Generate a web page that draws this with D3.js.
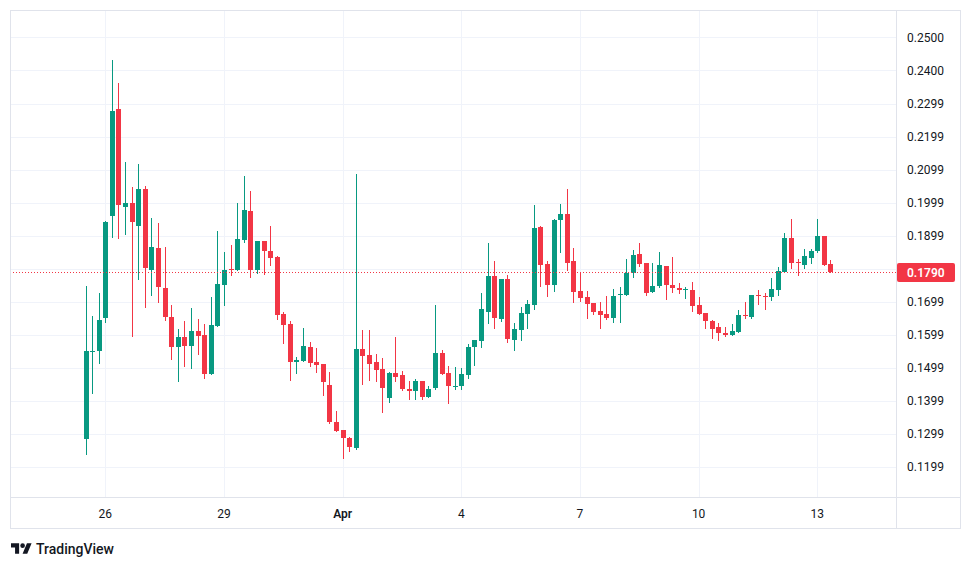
<!DOCTYPE html>
<html>
<head>
<meta charset="utf-8">
<script src="https://cdn.jsdelivr.net/npm/d3@7"></script>
<style>
  body { margin: 0; background: #fff; }
  svg { display: block; font-family: Roboto, "Liberation Sans", sans-serif; }
</style>
</head>
<body>
<div id="chart"></div>
<script>
// 4h candles, first one opens on Mar 25 12:00
const startTime = Date.UTC(2024, 2, 25, 12);
const stepHours = 4;

const opens = [
  0.1282, 0.1548, 0.1548, 0.1648, 0.1960, 0.2283, 0.1987, 0.1998, 0.1929, 0.2040,
  0.1796, 0.1862, 0.1741, 0.1653, 0.1563, 0.1592, 0.1566, 0.1610, 0.1598, 0.1481,
  0.1626, 0.1748, 0.1799, 0.1796, 0.1887, 0.1974, 0.1796, 0.1883, 0.1853, 0.1834,
  0.1662, 0.1631, 0.1517, 0.1520, 0.1562, 0.1516, 0.1510, 0.1447, 0.1335, 0.1310,
  0.1287, 0.1254, 0.1556, 0.1538, 0.1516, 0.1495, 0.1408, 0.1483, 0.1477, 0.1435,
  0.1427, 0.1459, 0.1411, 0.1436, 0.1544, 0.1483, 0.1442, 0.1442, 0.1478, 0.1563,
  0.1581, 0.1669, 0.1777, 0.1645, 0.1768, 0.1584, 0.1614, 0.1663, 0.1690, 0.1925,
  0.1813, 0.1748, 0.1945, 0.1965, 0.1822, 0.1731, 0.1713, 0.1695, 0.1671, 0.1662,
  0.1648, 0.1719, 0.1720, 0.1785, 0.1844, 0.1816, 0.1729, 0.1745, 0.1807, 0.1750,
  0.1739, 0.1734, 0.1735, 0.1689, 0.1665, 0.1641, 0.1622, 0.1604, 0.1599, 0.1608,
  0.1659, 0.1651, 0.1719, 0.1716, 0.1714, 0.1735, 0.1790, 0.1892, 0.1820, 0.1811,
  0.1832, 0.1851, 0.1898, 0.1813
];
const highs = [
  0.1745, 0.1656, 0.1724, 0.1942, 0.2431, 0.2363, 0.2122, 0.2047, 0.2116, 0.2048,
  0.1953, 0.1938, 0.1865, 0.1689, 0.1616, 0.1641, 0.1680, 0.1647, 0.1632, 0.1713,
  0.1913, 0.1850, 0.1871, 0.1998, 0.2080, 0.2034, 0.1884, 0.1884, 0.1928, 0.1838,
  0.1668, 0.1641, 0.1531, 0.1619, 0.1577, 0.1560, 0.1511, 0.1487, 0.1369, 0.1311,
  0.1290, 0.2086, 0.1613, 0.1613, 0.1541, 0.1528, 0.1487, 0.1592, 0.1489, 0.1459,
  0.1465, 0.1460, 0.1444, 0.1689, 0.1553, 0.1504, 0.1501, 0.1498, 0.1571, 0.1584,
  0.1725, 0.1877, 0.1822, 0.1769, 0.1780, 0.1634, 0.1683, 0.1704, 0.1992, 0.1928,
  0.1822, 0.1948, 0.1995, 0.2040, 0.1862, 0.1786, 0.1731, 0.1696, 0.1699, 0.1716,
  0.1738, 0.1744, 0.1828, 0.1856, 0.1877, 0.1817, 0.1816, 0.1850, 0.1808, 0.1834,
  0.1756, 0.1744, 0.1759, 0.1713, 0.1666, 0.1644, 0.1634, 0.1622, 0.1632, 0.1674,
  0.1698, 0.1720, 0.1735, 0.1725, 0.1771, 0.1804, 0.1907, 0.1950, 0.1828, 0.1859,
  0.1859, 0.1950, 0.1899, 0.1825
];
const lows = [
  0.1238, 0.1423, 0.1512, 0.1636, 0.1896, 0.1893, 0.1905, 0.1596, 0.1767, 0.1684,
  0.1720, 0.1699, 0.1644, 0.1525, 0.1457, 0.1505, 0.1499, 0.1539, 0.1469, 0.1480,
  0.1625, 0.1690, 0.1781, 0.1795, 0.1879, 0.1775, 0.1785, 0.1784, 0.1811, 0.1646,
  0.1575, 0.1463, 0.1484, 0.1519, 0.1505, 0.1487, 0.1417, 0.1332, 0.1307, 0.1226,
  0.1245, 0.1253, 0.1448, 0.1463, 0.1457, 0.1366, 0.1396, 0.1457, 0.1432, 0.1405,
  0.1405, 0.1405, 0.1410, 0.1435, 0.1480, 0.1393, 0.1433, 0.1433, 0.1469, 0.1508,
  0.1563, 0.1633, 0.1620, 0.1639, 0.1578, 0.1551, 0.1584, 0.1620, 0.1678, 0.1745,
  0.1717, 0.1732, 0.1848, 0.1796, 0.1699, 0.1702, 0.1648, 0.1660, 0.1620, 0.1647,
  0.1636, 0.1636, 0.1719, 0.1775, 0.1808, 0.1720, 0.1728, 0.1744, 0.1708, 0.1729,
  0.1726, 0.1711, 0.1672, 0.1660, 0.1620, 0.1590, 0.1584, 0.1596, 0.1598, 0.1607,
  0.1648, 0.1650, 0.1693, 0.1678, 0.1705, 0.1720, 0.1789, 0.1802, 0.1781, 0.1802,
  0.1817, 0.1850, 0.1810, 0.1789
];
const closes = [
  0.1548, 0.1550, 0.1644, 0.1941, 0.2277, 0.1993, 0.1998, 0.1939, 0.2040, 0.1802,
  0.1865, 0.1742, 0.1651, 0.1563, 0.1592, 0.1566, 0.1610, 0.1596, 0.1481, 0.1628,
  0.1753, 0.1795, 0.1797, 0.1889, 0.1977, 0.1796, 0.1883, 0.1851, 0.1832, 0.1657,
  0.1629, 0.1517, 0.1522, 0.1565, 0.1514, 0.1508, 0.1454, 0.1333, 0.1308, 0.1287,
  0.1258, 0.1556, 0.1533, 0.1511, 0.1493, 0.1437, 0.1484, 0.1472, 0.1433, 0.1427,
  0.1459, 0.1411, 0.1435, 0.1544, 0.1481, 0.1442, 0.1444, 0.1480, 0.1562, 0.1583,
  0.1677, 0.1777, 0.1648, 0.1768, 0.1587, 0.1616, 0.1665, 0.1692, 0.1922, 0.1811,
  0.1748, 0.1947, 0.1965, 0.1817, 0.1729, 0.1711, 0.1693, 0.1669, 0.1659, 0.1648,
  0.1716, 0.1722, 0.1786, 0.1841, 0.1814, 0.1726, 0.1747, 0.1810, 0.1748, 0.1739,
  0.1733, 0.1736, 0.1687, 0.1663, 0.1639, 0.1617, 0.1605, 0.1599, 0.1610, 0.1659,
  0.1654, 0.1719, 0.1717, 0.1714, 0.1737, 0.1792, 0.1892, 0.1817, 0.1817, 0.1837,
  0.1853, 0.1898, 0.1811, 0.1790
];

const priceTicks = [0.2500, 0.2400, 0.2299, 0.2199, 0.2099, 0.1999, 0.1899,
                    0.1799, 0.1699, 0.1599, 0.1499, 0.1399, 0.1299, 0.1199];
const dayTicks = [
  { date: Date.UTC(2024, 2, 26), label: '26' },
  { date: Date.UTC(2024, 2, 29), label: '29' },
  { date: Date.UTC(2024, 3, 1), label: 'Apr', month: true },
  { date: Date.UTC(2024, 3, 4), label: '4' },
  { date: Date.UTC(2024, 3, 7), label: '7' },
  { date: Date.UTC(2024, 3, 10), label: '10' },
  { date: Date.UTC(2024, 3, 13), label: '13' }
];

const UP = '#089981', DOWN = '#f23645';
const TEXT = '#131722', GRID = '#f0f3fa', BORDER = '#e0e3eb';

const width = 970, height = 568;
const frame = { left: 10, top: 10, right: 960, bottom: 528 };
const paneRight = 896, paneBottom = 497;

const candles = opens.map((o, i) => ({
  t: new Date(startTime + i * stepHours * 3600e3),
  o, h: highs[i], l: lows[i], c: closes[i]
}));
const lastClose = closes[closes.length - 1];

const x = d3.scaleUtc()
  .domain([new Date(dayTicks[0].date), new Date(dayTicks[6].date)])
  .range([105.3, 817.3]);
const y = d3.scaleLinear().domain([0.25, 0.12]).range([37.3, 466.3]);

const svg = d3.select('#chart').append('svg')
  .attr('width', width)
  .attr('height', height);

// grille
const grid = svg.append('g');
grid.selectAll('line.h')
  .data(priceTicks)
  .enter().append('line')
  .attr('x1', frame.left).attr('x2', paneRight)
  .attr('y1', d => Math.round(y(d)) + 0.5)
  .attr('y2', d => Math.round(y(d)) + 0.5)
  .style('stroke', GRID);
grid.selectAll('line.v')
  .data(dayTicks)
  .enter().append('line')
  .attr('x1', d => Math.round(x(d.date)) + 0.5)
  .attr('x2', d => Math.round(x(d.date)) + 0.5)
  .attr('y1', frame.top).attr('y2', paneBottom)
  .style('stroke', GRID);

// bougies
const bars = svg.append('g');
candles.forEach(d => {
  const cx = Math.round(x(d.t));
  const col = d.c >= d.o ? UP : DOWN;
  bars.append('line')
    .attr('x1', cx + 0.5).attr('x2', cx + 0.5)
    .attr('y1', Math.round(y(d.h))).attr('y2', Math.round(y(d.l)) + 1)
    .style('stroke', col);
  const yTop = Math.round(y(Math.max(d.o, d.c)));
  const yBot = Math.round(y(Math.min(d.o, d.c)));
  bars.append('rect')
    .attr('x', cx - 2).attr('width', 5)
    .attr('y', yTop).attr('height', Math.max(1, yBot - yTop))
    .style('fill', col);
});

// ligne du dernier prix
const yLast = Math.round(y(lastClose)) + 0.5;
svg.append('line')
  .attr('x1', frame.left).attr('x2', paneRight)
  .attr('y1', yLast).attr('y2', yLast)
  .style('stroke', DOWN)
  .style('stroke-dasharray', '1,2');

// cadre
svg.append('rect')
  .attr('x', frame.left + 0.5).attr('y', frame.top + 0.5)
  .attr('width', frame.right - frame.left).attr('height', frame.bottom - frame.top)
  .style('fill', 'none').style('stroke', BORDER);
svg.append('line')
  .attr('x1', paneRight + 0.5).attr('x2', paneRight + 0.5)
  .attr('y1', frame.top).attr('y2', frame.bottom)
  .style('stroke', BORDER);
svg.append('line')
  .attr('x1', frame.left).attr('x2', frame.right)
  .attr('y1', paneBottom + 0.5).attr('y2', paneBottom + 0.5)
  .style('stroke', BORDER);

// échelle de prix
svg.append('g').selectAll('text')
  .data(priceTicks.filter(d => Math.abs(y(d) - y(lastClose)) > 12))
  .enter().append('text')
  .attr('x', 907)
  .attr('y', d => y(d))
  .attr('dy', '0.35em')
  .style('font-size', '12px')
  .style('fill', TEXT)
  .text(d => d.toFixed(4));

svg.append('rect')
  .attr('x', 897).attr('y', yLast - 9.5)
  .attr('width', 58).attr('height', 19)
  .attr('rx', 2)
  .style('fill', DOWN);
svg.append('text')
  .attr('x', 907).attr('y', yLast)
  .attr('dy', '0.35em')
  .style('font-size', '12px')
  .style('font-weight', 600)
  .style('fill', '#fff')
  .text(lastClose.toFixed(4));

// échelle de temps
svg.append('g').selectAll('text')
  .data(dayTicks)
  .enter().append('text')
  .attr('x', d => x(d.date))
  .attr('y', 514)
  .attr('dy', '0.35em')
  .style('text-anchor', 'middle')
  .style('font-size', '12px')
  .style('font-weight', d => d.month ? 600 : 400)
  .style('fill', TEXT)
  .text(d => d.label);

// logo TradingView
const logo = svg.append('g').attr('transform', 'translate(11,541) scale(0.58)');
logo.append('path')
  .attr('d', 'M14 22H7V11H0V4h14v18zM28 22h-8l7.5-18h8L28 22z')
  .style('fill', TEXT);
logo.append('circle')
  .attr('cx', 20).attr('cy', 8).attr('r', 4)
  .style('fill', TEXT);
svg.append('text')
  .attr('x', 36).attr('y', 549)
  .attr('dy', '0.35em')
  .style('font-size', '14px')
  .style('font-weight', 500)
  .style('fill', TEXT)
  .text('TradingView');
</script>
</body>
</html>
